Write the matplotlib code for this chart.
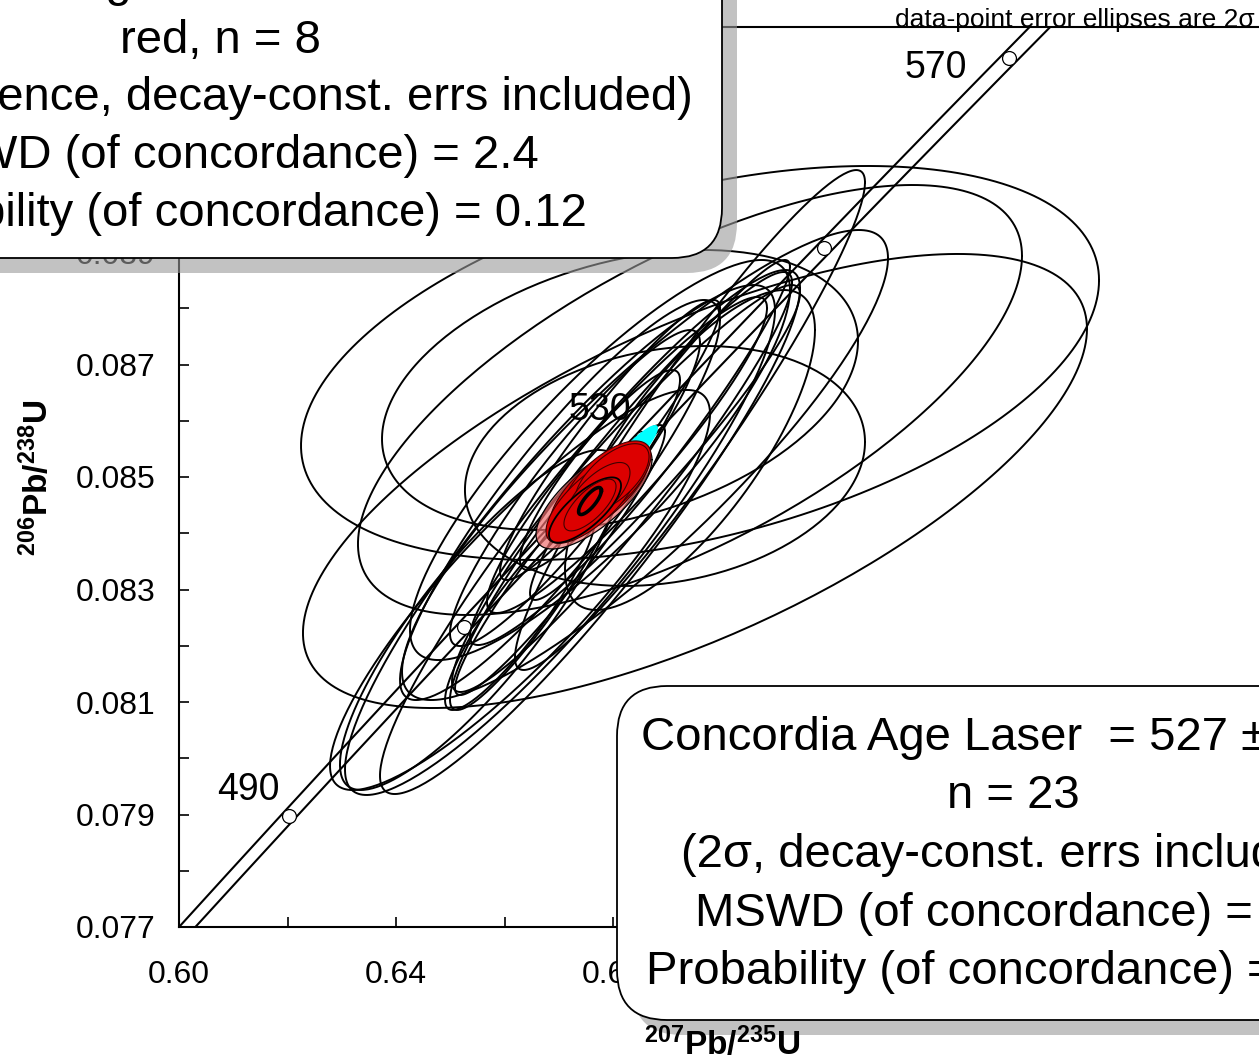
import matplotlib.pyplot as plt
import numpy as np
from matplotlib.patches import FancyBboxPatch

plt.rcParams['font.family'] = ['Liberation Sans', 'DejaVu Sans']
plt.rcParams['mathtext.fontset'] = 'custom'
plt.rcParams['mathtext.rm'] = 'Liberation Sans'
plt.rcParams['mathtext.bf'] = 'Liberation Sans:bold'
plt.rcParams['mathtext.it'] = 'Liberation Sans:italic'

# --- decay constants (1/yr) for the concordia curve ---
LAMBDA_238 = 1.55125e-10
LAMBDA_235 = 9.8485e-10

marker_ages = [490, 510, 530, 550, 570]
label_ages = [490, 530, 570]

# --- data-point ellipses: 207Pb/235U, 2s, 206Pb/238U, 2s, rho ---
black_x   = [0.69604, 0.69511, 0.69419, 0.68590, 0.68958, 0.68129, 0.69419,
             0.67576, 0.67023, 0.68166, 0.68405, 0.68258, 0.67299,
             0.67945, 0.66654, 0.67023, 0.66286, 0.68866, 0.69419,
             0.67760, 0.67023, 0.66286, 0.65548, 0.67760]
black_sx  = [0.07355, 0.07226, 0.06120, 0.04479, 0.03687, 0.04387, 0.02304,
             0.03871, 0.03963, 0.03134, 0.03041, 0.02581, 0.02304,
             0.02028, 0.01659, 0.01935, 0.01382, 0.02396, 0.03226,
             0.03502, 0.02949, 0.03502, 0.02581, 0.01475]
black_y   = [0.087027, 0.084929, 0.086369, 0.085213, 0.085196, 0.086547, 0.085480,
             0.084022, 0.083880, 0.084911, 0.085213, 0.085391, 0.084804,
             0.085658, 0.083169, 0.083524, 0.082636, 0.085836, 0.086013,
             0.085302, 0.084591, 0.082991, 0.082458, 0.085124]
black_sy  = [0.003502, 0.004036, 0.003822, 0.004178, 0.002133, 0.002489, 0.002844,
             0.004658, 0.004533, 0.003733, 0.003200, 0.002809, 0.002809,
             0.002489, 0.002311, 0.002400, 0.001778, 0.003022, 0.004444,
             0.003556, 0.003556, 0.003556, 0.003022, 0.001778]
black_rho = [0.42, 0.67, 0.67, 0.88, 0.20, 0.35, 0.75,
             0.93, 0.90, 0.95, 0.95, 0.93, 0.92,
             0.94, 0.92, 0.95, 0.90, 0.96, 0.95,
             0.85, 0.90, 0.88, 0.85, 0.90]

red_x   = [0.67760, 0.67889, 0.67613, 0.67982, 0.67723, 0.67484, 0.67576]
red_sx  = [0.00922, 0.00811, 0.00848, 0.00682, 0.00590, 0.00664, 0.00480]
red_y   = [0.084769, 0.084911, 0.084591, 0.084982, 0.084698, 0.084413, 0.084502]
red_sy  = [0.000820, 0.000730, 0.000770, 0.000610, 0.000560, 0.000580, 0.000460]
red_rho = [0.70, 0.65, 0.72, 0.62, 0.68, 0.75, 0.72]

# concordia-age ellipses (x, 2s, y, 2s, rho)
pink_ell = (0.67650, 0.01069, 0.084644, 0.000924, 0.72)
cyan_ell = (0.68313, 0.00516, 0.085391, 0.000533, 0.90)
age_ell  = (0.67576, 0.00210, 0.084573, 0.000240, 0.78)

x_ticks = [0.60, 0.62, 0.64, 0.66, 0.68, 0.70, 0.72, 0.74, 0.76, 0.78, 0.80]
x_labels = ['0.60', '', '0.64', '', '0.68', '', '0.72', '', '0.76', '', '0.80']
y_ticks = [0.077, 0.078, 0.079, 0.080, 0.081, 0.082, 0.083, 0.084, 0.085,
           0.086, 0.087, 0.088, 0.089, 0.090, 0.091, 0.092, 0.093]
y_labels = ['0.077', '', '0.079', '', '0.081', '', '0.083', '', '0.085',
            '', '0.087', '', '0.089', '', '0.091', '', '0.093']

box_left = ['Concordia Age Laser  = 529 \u00b1 3 Ma',
            'red, n = 8',
            '(95% confidence, decay-const. errs included)',
            'MSWD (of concordance) = 2.4',
            'Probability (of concordance) = 0.12']
box_right = ['Concordia Age Laser  = 527 \u00b1 2 Ma',
             'n = 23',
             '(2\u03c3, decay-const. errs included)',
             'MSWD (of concordance) = 1.5',
             'Probability (of concordance) = 0.22']


def ellipse_xy(x, sx, y, sy, rho, n=240):
    t = np.linspace(0, 2 * np.pi, n)
    return (x + sx * np.cos(t),
            y + sy * (rho * np.cos(t) + np.sqrt(1 - rho ** 2) * np.sin(t)))


W, H = 1259, 1057
fig = plt.figure(figsize=(W / 100, H / 100), dpi=100)
fig.patch.set_facecolor('white')
ax = fig.add_axes([179 / W, 130 / H, 1085 / W, 900 / H])
ax.set_xlim(0.60, 0.80)
ax.set_ylim(0.077, 0.093)

# --- concordia with decay-constant error band ---
t = np.linspace(420, 620, 400) * 1e6
cx = np.exp(LAMBDA_235 * t) - 1
cy = np.exp(LAMBDA_238 * t) - 1
ax.plot(cx * 0.9975, cy, color='black', lw=1.5, zorder=2)
ax.plot(cx * 1.0025, cy, color='black', lw=1.5, zorder=2)

ma = np.array(marker_ages) * 1e6
ax.plot(np.exp(LAMBDA_235 * ma) - 1, np.exp(LAMBDA_238 * ma) - 1, 'o',
        ms=10, mfc='white', mec='black', mew=0.9, zorder=3)

label_off = {490: (-29, 19), 530: (-30, 20), 570: (-53, -7)}
for a in label_ages:
    ax.annotate(str(a), (np.exp(LAMBDA_235 * a * 1e6) - 1,
                         np.exp(LAMBDA_238 * a * 1e6) - 1),
                xytext=label_off[a], textcoords='offset points',
                ha='center', va='center', fontsize=27, zorder=1)

# --- black data-point ellipses ---
for x, sx, y, sy, r in zip(black_x, black_sx, black_y, black_sy, black_rho):
    ex, ey = ellipse_xy(x, sx, y, sy, r)
    ax.plot(ex, ey, color='black', lw=1.4, zorder=4)

# --- red group and concordia-age ellipses ---
ex, ey = ellipse_xy(*cyan_ell)
ax.fill(ex, ey, facecolor='#00ffff', edgecolor='none', zorder=5)
ex, ey = ellipse_xy(*pink_ell)
ax.fill(ex, ey, facecolor='#ee6f6f', alpha=0.7, edgecolor='none', zorder=6)
ax.plot(ex, ey, color='black', lw=0.9, zorder=6)
for i, (x, sx, y, sy, r) in enumerate(zip(red_x, red_sx, red_y, red_sy, red_rho)):
    ex, ey = ellipse_xy(x, sx, y, sy, r)
    ax.fill(ex, ey, facecolor='#dd0000', edgecolor='black' if i == 5 else '#400000',
            lw=1.3 if i == 5 else 0.8, zorder=7)
ex, ey = ellipse_xy(*age_ell)
ax.plot(ex, ey, color='black', lw=2.6, zorder=8)

# --- axes styling ---
ax.set_xticks(x_ticks)
ax.set_xticklabels(x_labels)
ax.set_yticks(y_ticks)
ax.set_yticklabels(y_labels)
ax.tick_params(direction='in', length=7, width=1.2, labelsize=23,
               top=False, right=False)
ax.tick_params(axis='x', pad=24)
ax.tick_params(axis='y', pad=17)
for s in ax.spines.values():
    s.set_linewidth(1.5)

ax.text((1255 - 179) / 1085, 1.0, 'data-point error ellipses are 2\u03c3',
        transform=ax.transAxes, ha='right', va='baseline', fontsize=19)

fig.text(37 / W, 1 - 478 / H, r'$^{\mathbf{206}}\mathbf{Pb/}^{\mathbf{238}}\mathbf{U}$',
         rotation=90, ha='center', va='center', fontsize=24, zorder=6)
fig.text(722 / W, 2 / H, r'$^{\mathbf{207}}\mathbf{Pb/}^{\mathbf{235}}\mathbf{U}$',
         ha='center', va='baseline', fontsize=24, zorder=6)

# --- result boxes with drop shadow (inches, bottom-left origin) ---
def result_box(x0, y0, w, h, lines, xc, baselines):
    shadow = FancyBboxPatch((x0 + 0.15, y0 - 0.15), w, h,
                            boxstyle='round,pad=0,rounding_size=0.5',
                            transform=fig.dpi_scale_trans,
                            facecolor='#9a9a9a', edgecolor='none', alpha=0.6,
                            zorder=3)
    box = FancyBboxPatch((x0, y0), w, h,
                         boxstyle='round,pad=0,rounding_size=0.5',
                         transform=fig.dpi_scale_trans,
                         facecolor='white', edgecolor='black', lw=1.3,
                         zorder=4)
    fig.patches.extend([shadow, box])
    for txt, b in zip(lines, baselines):
        fig.text(xc / W, (H - b) / H, txt, ha='center', va='baseline',
                 fontsize=34, zorder=5)

result_box(-1.0, (H - 258) / 100, 8.22, 3.58, box_left, 220,
           [-4.5, 53, 110.5, 168, 225.5])
result_box(6.17, (H - 1020) / 100, 8.83, 3.34, box_right, 1013,
           [750, 808.5, 867, 925.5, 984])

fig.savefig('out.png', dpi=100, facecolor='white')
